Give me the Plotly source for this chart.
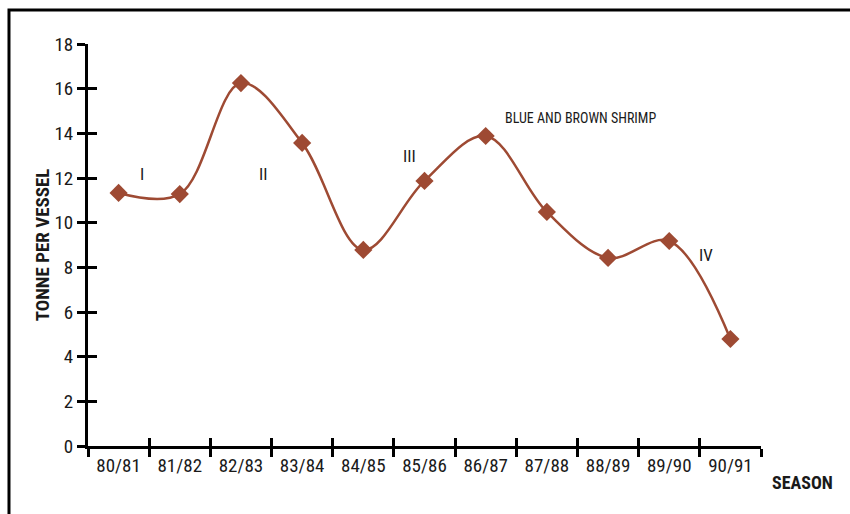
import plotly.graph_objects as go

seasons = ["80/81", "81/82", "82/83", "83/84", "84/85", "85/86",
           "86/87", "87/88", "88/89", "89/90", "90/91"]
tonne_per_vessel = [11.33, 11.28, 16.25, 13.57, 8.78, 11.87,
                    13.88, 10.48, 8.42, 9.18, 4.79]
y_ticks = [0, 2, 4, 6, 8, 10, 12, 14, 16, 18]

phase_labels = ["I", "II", "III", "IV"]
phase_x = [0.38, 2.37, 4.75, 9.6]
phase_y = [12.2, 12.2, 13.0, 8.55]

COLOR = "#9E4A33"
TXT = "#1a1a1a"
FONT = "Roboto Condensed, Liberation Sans Narrow, sans-serif"

fig = go.Figure()
# invisible trace on overlay axes (gives the crossing half of each tick)
fig.add_trace(go.Scatter(x=seasons, y=tonne_per_vessel, xaxis="x2", yaxis="y2",
                         mode="lines", line=dict(width=0), opacity=0,
                         hoverinfo="skip", showlegend=False))
fig.add_trace(go.Scatter(
    x=seasons, y=tonne_per_vessel, mode="lines+markers",
    line=dict(color=COLOR, width=2.5, shape="spline", smoothing=1.0),
    marker=dict(symbol="diamond", size=14, color=COLOR),
    showlegend=False, cliponaxis=False))

for lbl, xv, yv in zip(phase_labels, phase_x, phase_y):
    fig.add_annotation(x=xv, y=yv, text=lbl, showarrow=False,
                       font=dict(family=FONT, size=17, color=TXT))

fig.add_annotation(x=6.28, y=14.7, text="BLUE AND BROWN SHRIMP", showarrow=False,
                   xanchor="left", font=dict(family=FONT, size=14, color=TXT))
fig.add_annotation(xref="paper", yref="paper", x=1.0134, y=-0.0896, text="<b>SEASON</b>",
                   showarrow=False, xanchor="left", yanchor="middle",
                   font=dict(family=FONT, size=18, color=TXT))

axis_common = dict(linecolor="black", linewidth=3, tickcolor="black", tickwidth=3,
                   showgrid=False, zeroline=False)

fig.update_layout(
    width=850, height=514,
    margin=dict(l=88, r=89, t=44, b=68),
    paper_bgcolor="white", plot_bgcolor="white",
    font=dict(family=FONT, size=19, color=TXT),
    xaxis=dict(type="category", categoryorder="array", categoryarray=seasons,
               range=[-0.5, 10.5], tickson="boundaries", ticks="outside", ticklen=8,
               showline=True, tickfont=dict(size=19), **axis_common),
    xaxis2=dict(type="category", categoryorder="array", categoryarray=seasons,
                range=[-0.5, 10.5], tickson="boundaries", ticks="inside", ticklen=8,
                showline=False, showticklabels=False, overlaying="x", anchor="y",
                tickcolor="black", tickwidth=3, showgrid=False, zeroline=False),
    yaxis=dict(range=[0, 18], tickvals=y_ticks, ticks="outside", ticklen=8,
               showline=True, tickfont=dict(size=19),
               title=dict(text="<b>TONNE PER VESSEL</b>", standoff=0,
                          font=dict(size=19)),
               **axis_common),
    yaxis2=dict(range=[0, 18], tickvals=y_ticks, ticks="inside", ticklen=9,
                showline=False, showticklabels=False, overlaying="y", anchor="x",
                side="left", tickcolor="black", tickwidth=3, showgrid=False,
                zeroline=False),
    shapes=[dict(type="rect", xref="paper", yref="paper",
                 x0=-0.1174, x1=1.2, y0=-0.25, y1=1.0846,
                 line=dict(color="black", width=3), fillcolor="rgba(0,0,0,0)",
                 layer="below")],
)

fig.write_html(
    "out.html",
    config={"displayModeBar": False},
    post_script="document.body.style.margin='0';"
                "document.documentElement.style.overflow='hidden';"
                "document.body.style.overflow='hidden';",
)
